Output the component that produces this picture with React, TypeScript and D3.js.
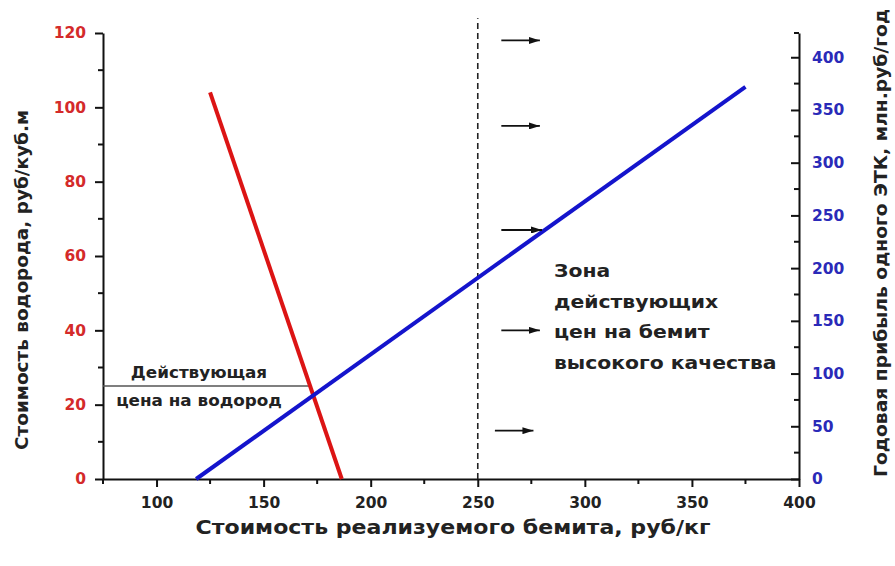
import React, { useRef, useEffect } from 'react';
import * as d3 from 'd3';

const width = 895;
const height = 566;
const margin = { top: 33, right: 96, bottom: 87, left: 103 };

// x: стоимость бемита, руб/кг
const xDomain = [75, 400];
const xTicks = [100, 150, 200, 250, 300, 350, 400];
const xMinor = [75, 125, 175, 225, 275, 325, 375];

// левая ось: стоимость водорода
const leftDomain = [0, 120];
const leftTicks = [0, 20, 40, 60, 80, 100, 120];
const leftMinor = [10, 30, 50, 70, 90, 110];

// правая ось: годовая прибыль
const rightDomain = [0, 423];
const rightTicks = [0, 50, 100, 150, 200, 250, 300, 350, 400];
const rightMinor = [25, 75, 125, 175, 225, 275, 325, 375];

// красная линия (стоимость водорода)
const redX = [125, 186.5];
const redY = [104, 0];

// синяя линия (прибыль ЭТК)
const blueX = [118.5, 375];
const blueY = [0, 372];

// действующая цена на водород
const priceX = [75, 172];
const priceY = [25, 25];

// граница зоны цен
const zoneX = 250;
const zoneTop = 124;

// стрелки зоны
const arrowY = [118, 95, 67, 40, 13];
const arrowX0 = [261, 261, 261, 261, 258];
const arrowX1 = [279, 279, 280, 279, 276];

const zoneText = ['Зона', 'действующих', 'цен на бемит', 'высокого качества'];
const priceText = ['Действующая', 'цена на водород'];

const font = '"DejaVu Sans", Arial, sans-serif';

const App: React.FC = () => {
  const ref = useRef<SVGSVGElement>(null);

  useEffect(() => {
    const svg = d3.select(ref.current);
    svg.selectAll('*').remove();

    const x = d3.scaleLinear().domain(xDomain).range([margin.left, width - margin.right]);
    const yL = d3.scaleLinear().domain(leftDomain).range([height - margin.bottom, margin.top]);
    const yR = d3.scaleLinear().domain(rightDomain).range([height - margin.bottom, margin.top]);

    svg
      .append('defs')
      .append('marker')
      .attr('id', 'arr')
      .attr('viewBox', '0 0 11 7')
      .attr('refX', 11)
      .attr('refY', 3.5)
      .attr('markerWidth', 11)
      .attr('markerHeight', 7)
      .attr('markerUnits', 'userSpaceOnUse')
      .attr('orient', 'auto')
      .append('path')
      .attr('d', 'M0,0 L11,3.5 L0,7 Z')
      .attr('fill', '#111');

    const y0 = height - margin.bottom;

    // bottom axis
    const xAxis = svg.append('g').attr('transform', `translate(0,${y0})`);
    xAxis
      .call(d3.axisBottom(x).tickValues(xTicks).tickSize(8).tickSizeOuter(0).tickFormat(d3.format('d')))
      .call((g: any) => g.select('.domain').attr('stroke', '#111').attr('stroke-width', 2))
      .call((g: any) => g.selectAll('.tick line').attr('stroke', '#111').attr('stroke-width', 2))
      .call((g: any) =>
        g
          .selectAll('.tick text')
          .attr('y', 18)
          .attr('font-family', font)
          .attr('font-weight', 'bold')
          .attr('font-size', 15.5)
          .attr('fill', '#222'),
      );
    xAxis
      .selectAll('.minor')
      .data(xMinor)
      .join('line')
      .attr('x1', (d) => x(d))
      .attr('x2', (d) => x(d))
      .attr('y1', 0)
      .attr('y2', 5)
      .attr('stroke', '#111')
      .attr('stroke-width', 2);

    // left axis
    const lAxis = svg.append('g').attr('transform', `translate(${margin.left},0)`);
    lAxis
      .call(d3.axisLeft(yL).tickValues(leftTicks).tickSize(8).tickSizeOuter(0).tickPadding(9))
      .call((g: any) => g.select('.domain').attr('stroke', '#111').attr('stroke-width', 2))
      .call((g: any) => g.selectAll('.tick line').attr('stroke', '#111').attr('stroke-width', 2))
      .call((g: any) =>
        g
          .selectAll('.tick text')
          .attr('font-family', font)
          .attr('font-weight', 'bold')
          .attr('font-size', 15.5)
          .attr('fill', '#d42a2a'),
      );
    lAxis
      .selectAll('.minor')
      .data(leftMinor)
      .join('line')
      .attr('x1', -5)
      .attr('x2', 0)
      .attr('y1', (d) => yL(d))
      .attr('y2', (d) => yL(d))
      .attr('stroke', '#111')
      .attr('stroke-width', 2);

    // right axis, ticks inward
    const rAxis = svg.append('g').attr('transform', `translate(${width - margin.right},0)`);
    rAxis
      .call(d3.axisRight(yR).tickValues(rightTicks).tickSize(-8).tickSizeOuter(0).tickPadding(13))
      .call((g: any) => g.select('.domain').attr('stroke', '#111').attr('stroke-width', 2))
      .call((g: any) => g.selectAll('.tick line').attr('stroke', '#111').attr('stroke-width', 2))
      .call((g: any) =>
        g
          .selectAll('.tick text')
          .attr('font-family', font)
          .attr('font-weight', 'bold')
          .attr('font-size', 15.5)
          .attr('fill', '#2a2ab8'),
      );
    rAxis
      .selectAll('.minor')
      .data(rightMinor.concat([rightDomain[1]]))
      .join('line')
      .attr('x1', -5)
      .attr('x2', 0)
      .attr('y1', (d) => yR(d))
      .attr('y2', (d) => yR(d))
      .attr('stroke', '#111')
      .attr('stroke-width', 2);

    // dashed zone border
    svg
      .append('line')
      .attr('x1', x(zoneX))
      .attr('x2', x(zoneX))
      .attr('y1', yL(0))
      .attr('y2', yL(zoneTop))
      .attr('stroke', '#222')
      .attr('stroke-width', 1.6)
      .attr('stroke-dasharray', '6,4');

    // current hydrogen price line
    svg
      .append('path')
      .attr('d', d3.line()(priceX.map((v, i) => [x(v), yL(priceY[i])])) as string)
      .attr('stroke', '#555')
      .attr('stroke-width', 1.5)
      .attr('fill', 'none');

    // red line
    svg
      .append('path')
      .attr('d', d3.line()(redX.map((v, i) => [x(v), yL(redY[i])])) as string)
      .attr('stroke', '#dc1414')
      .attr('stroke-width', 4)
      .attr('fill', 'none');

    // blue line
    svg
      .append('path')
      .attr('d', d3.line()(blueX.map((v, i) => [x(v), yR(blueY[i])])) as string)
      .attr('stroke', '#1414cc')
      .attr('stroke-width', 4)
      .attr('fill', 'none');

    // arrows
    svg
      .append('g')
      .selectAll('line')
      .data(arrowY)
      .join('line')
      .attr('x1', (d, i) => x(arrowX0[i]))
      .attr('x2', (d, i) => x(arrowX1[i]))
      .attr('y1', (d) => yL(d))
      .attr('y2', (d) => yL(d))
      .attr('stroke', '#111')
      .attr('stroke-width', 1.8)
      .attr('marker-end', 'url(#arr)');

    // zone label (image is slightly stretched horizontally)
    svg
      .append('g')
      .selectAll('text')
      .data(zoneText)
      .join('text')
      .attr('transform', (d, i) => `translate(554,${277 + i * 30.5}) scale(1.1,1)`)
      .attr('font-family', font)
      .attr('font-weight', 'bold')
      .attr('font-size', 18.5)
      .attr('fill', '#222')
      .text((d) => d);

    // price label
    svg
      .append('g')
      .selectAll('text')
      .data(priceText)
      .join('text')
      .attr('transform', (d, i) => `translate(199,${378 + i * 28}) scale(1.12,1)`)
      .attr('text-anchor', 'middle')
      .attr('font-family', font)
      .attr('font-weight', 'bold')
      .attr('font-size', 15)
      .attr('fill', '#222')
      .text((d) => d);

    // axis titles
    svg
      .append('text')
      .attr('x', 453)
      .attr('y', 534)
      .attr('text-anchor', 'middle')
      .attr('font-family', font)
      .attr('font-weight', 'bold')
      .attr('font-size', 19)
      .attr('textLength', 515)
      .attr('lengthAdjust', 'spacingAndGlyphs')
      .attr('fill', '#222')
      .text('Стоимость реализуемого бемита, руб/кг');

    svg
      .append('text')
      .attr('transform', 'translate(28,280) rotate(-90)')
      .attr('text-anchor', 'middle')
      .attr('font-family', font)
      .attr('font-weight', 'bold')
      .attr('font-size', 18)
      .attr('textLength', 340)
      .attr('lengthAdjust', 'spacingAndGlyphs')
      .attr('fill', '#222')
      .text('Стоимость водорода, руб/куб.м');

    svg
      .append('text')
      .attr('transform', 'translate(887,243) rotate(-90)')
      .attr('text-anchor', 'middle')
      .attr('font-family', font)
      .attr('font-weight', 'bold')
      .attr('font-size', 18)
      .attr('textLength', 468)
      .attr('lengthAdjust', 'spacingAndGlyphs')
      .attr('fill', '#222')
      .text('Годовая прибыль одного ЭТК, млн.руб/год');
  }, []);

  return (
    <svg
      ref={ref}
      width={width}
      height={height}
      style={{ position: 'absolute', left: 0, top: 0, background: '#fff' }}
    />
  );
};

export default App;
